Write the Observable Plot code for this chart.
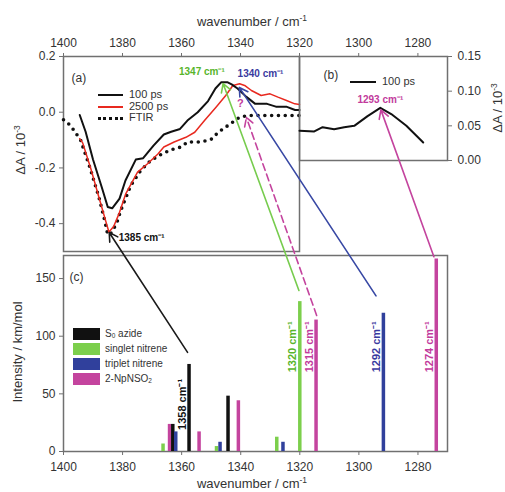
<!DOCTYPE html>
<html><head><meta charset="utf-8">
<script src="https://cdn.jsdelivr.net/npm/d3@7"></script>
<script src="https://cdn.jsdelivr.net/npm/@observablehq/plot@0.6"></script>
<style>
body{margin:0;background:#fff;font-family:"Liberation Sans",Arial,sans-serif;}
#chart{position:relative;width:505px;height:492px;overflow:hidden;background:#fff;}
#chart > svg{position:absolute;left:0;top:0;}
.t{position:absolute;color:#333;white-space:nowrap;line-height:1;}
.rot{transform:translate(-50%,-50%) rotate(-90deg);}
.ln{position:absolute;height:0;}
.sw{position:absolute;width:27px;height:12px;}
sup{font-size:0.65em;vertical-align:0.55em;}
sub{font-size:0.65em;vertical-align:-0.2em;}
</style></head>
<body><div id="chart"></div>
<script>
// ---------- data ----------
// panel (a): 100 ps transient
const a100W = [1394.5,1392.5,1390,1387,1385,1383.5,1381,1379,1375.5,1373,1369.5,1366,1363.5,1360.5,1358,1354.5,1351,1348.5,1346.5,1344.5,1343,1341,1338,1335,1331,1328,1324.5,1321.5,1320];
const a100V = [-0.01,-0.07,-0.17,-0.27,-0.34,-0.345,-0.31,-0.245,-0.17,-0.165,-0.12,-0.08,-0.07,-0.06,-0.03,0.0,0.04,0.085,0.108,0.108,0.10,0.085,0.055,0.03,0.03,0.02,0.02,0.008,0.008];
// panel (a): 2500 ps transient
const a2500W = [1394.5,1393.5,1390.8,1388,1385.7,1384.6,1383,1381.2,1378.9,1374.9,1371.5,1368,1366,1362.5,1358.5,1355.5,1352.2,1348.3,1345,1342.6,1340.3,1338.6,1336.3,1333,1330,1327.3,1324.4,1321.6,1320];
const a2500V = [-0.095,-0.11,-0.2,-0.305,-0.39,-0.43,-0.41,-0.365,-0.293,-0.215,-0.185,-0.15,-0.125,-0.107,-0.09,-0.072,-0.03,0.018,0.06,0.096,0.102,0.096,0.078,0.06,0.066,0.054,0.042,0.03,0.028];
// panel (a): FTIR
const ftirW = [1400,1397.6,1394.2,1391,1388,1386,1385,1384,1382,1380.6,1377.2,1373.8,1370.4,1367,1363.6,1360.2,1357.9,1353.4,1350,1347.5,1343.5,1340.3,1337.5,1333,1328,1324,1320];
const ftirV = [-0.027,-0.048,-0.10,-0.2,-0.305,-0.39,-0.44,-0.435,-0.40,-0.353,-0.263,-0.209,-0.173,-0.152,-0.135,-0.125,-0.107,-0.107,-0.098,-0.072,-0.042,-0.018,-0.012,-0.012,-0.012,-0.012,-0.012];
// panel (b): 100 ps
const b100W = [1320,1315,1312.2,1308.3,1304.9,1301.5,1297,1292.7,1289,1283.9,1278.2];
const b100V = [0.043,0.042,0.048,0.045,0.048,0.05,0.064,0.076,0.067,0.05,0.026];
// panel (c): calculated stick spectra
const seriesNames = ["S\u2080 azide","singlet nitrene","triplet nitrene","2-NpNSO\u2082"];
const seriesColors = ["#111111","#7ccf4c","#30409c","#c4449e"];
const barW = [1366.3,1364.1,1363,1362,1357.5,1354.1,1348.2,1347,1344.3,1340.8,1327.8,1325.7,1320,1314.5,1291.7,1273.8];
const barI = [6.5,23.5,23.5,17,75.5,17,4.3,8,48,44,12.4,8,130,114,120,167];
const barS = [1,3,0,2,0,3,1,2,0,3,1,2,1,3,2,3];
// tick values
const xTicksA = [1400,1380,1360,1340,1320];
const xTicksB = [1300,1280];
const xTicksC = [1400,1380,1360,1340,1320,1300,1280];
const yTicksA = [-0.4,-0.2,0.0,0.2];
const yTicksB = [0,0.05,0.10,0.15];
const yTicksC = [0,50,100,150];
// assignment labels in (c)
const cLabW = [1357.5,1320,1314.5,1291.7,1273.8];
const cLabI = [63,113,113,113,113];
const cLabT = ["1358 cm\u207B\u00B9","1320 cm\u207B\u00B9","1315 cm\u207B\u00B9","1292 cm\u207B\u00B9","1274 cm\u207B\u00B9"];
const cLabS = [0,1,3,2,3];
// arrows from sticks (c) to experimental bands (a)/(b)
const arTailW = [1358,1320.3,1314.3,1294.2,1274.6];
const arTailI = [86,139.6,118,135,169];
const arHeadW = [1384.5,1345.9,1338,1340.4,1292.5];
const arHeadV = [-0.432,0.103,-0.019,0.089,0.073];
const arPanel = ["a","a","a","a","b"];
const arS = [0,1,3,2,3];
const arDashed = [false,false,true,false,false];

// ---------- build ----------
const W = 505, H = 492;
const FONT = "Liberation Sans, Arial, sans-serif";
const base = {width: W, height: H, style: {background: "transparent", fontFamily: FONT, fontSize: "12px", color: "#333", overflow: "visible"}};
const FR = "#707070";
const txtGreen = "#58b52c", txtBlue = "#3a3aa0", txtMag = "#c23a9c";
const fmtInt = d => String(d);

const dA100 = a100W.map((w,i)=>({w, v:a100V[i]}));
const dA2500 = a2500W.map((w,i)=>({w, v:a2500V[i]}));
const dFtir = ftirW.map((w,i)=>({w, v:ftirV[i]}));
const dB = b100W.map((w,i)=>({w, v:b100V[i]}));
const dBars = barW.map((w,i)=>({w, v:barI[i], s:seriesNames[barS[i]]}));
const dCLab = cLabW.map((w,i)=>({w, v:cLabI[i], t:cLabT[i], c: [ "#111", txtGreen, txtBlue, txtMag ][cLabS[i]]}));

const plotA = Plot.plot({...base,
  marginLeft: 63, marginRight: 206, marginTop: 56, marginBottom: 241,
  x: {domain: [1400,1320]}, y: {domain: [-0.5,0.2]},
  marks: [
    Plot.frame({stroke: FR, strokeWidth: 1.5}),
    Plot.axisX({anchor: "top", ticks: xTicksA, tickFormat: fmtInt, tickSize: 4, tickPadding: 6, label: null, fontSize: 12, stroke: FR}),
    Plot.axisY({anchor: "left", ticks: yTicksA, tickFormat: d => d.toFixed(1), tickSize: 4, tickPadding: 4, label: null, fontSize: 12, stroke: FR}),
    Plot.line(dFtir, {x: "w", y: "v", stroke: "#111", strokeWidth: 3.6, strokeDasharray: "0,6.8", strokeLinecap: "round"}),
    Plot.line(dA2500, {x: "w", y: "v", stroke: "#e8291f", strokeWidth: 1.5}),
    Plot.line(dA100, {x: "w", y: "v", stroke: "#111", strokeWidth: 2}),
    Plot.text(["(a)"], {frameAnchor: "top-left", dx: 8, dy: 17, fontSize: 12, fill: "#333"}),
    Plot.text(["1347 cm\u207B\u00B9"], {x: () => 1346, y: () => 0.108, textAnchor: "end", dx: 2, dy: -10, fill: txtGreen, fontWeight: "bold", fontSize: 10}),
    Plot.text(["1340 cm\u207B\u00B9"], {x: () => 1340.3, y: () => 0.102, textAnchor: "start", dx: -2, dy: -10, fill: txtBlue, fontWeight: "bold", fontSize: 10}),
    Plot.text(["1385 cm\u207B\u00B9"], {x: () => 1385, y: () => -0.44, textAnchor: "start", dx: 11, dy: 3, fill: "#111", fontWeight: "bold", fontSize: 10}),
    Plot.text(["?"], {x: () => 1338, y: () => -0.019, dx: -6, dy: -14, fill: txtMag, fontWeight: "bold", fontSize: 11})
  ]
});

const plotB = Plot.plot({...base,
  marginLeft: 299, marginRight: 58, marginTop: 56, marginBottom: 332,
  x: {domain: [1320,1270]}, y: {domain: [0,0.15]},
  marks: [
    Plot.frame({stroke: FR, strokeWidth: 1.5}),
    Plot.axisX({anchor: "top", ticks: xTicksB, tickFormat: fmtInt, tickSize: 4, tickPadding: 6, label: null, fontSize: 12, stroke: FR}),
    Plot.axisY({anchor: "right", ticks: yTicksB, tickFormat: d => d.toFixed(2), tickSize: 4, tickPadding: 6, label: null, fontSize: 12, stroke: FR}),
    Plot.line(dB, {x: "w", y: "v", stroke: "#111", strokeWidth: 2}),
    Plot.text(["(b)"], {frameAnchor: "top-left", dx: 24, dy: 14, fontSize: 12, fill: "#333"}),
    Plot.text(["1293 cm\u207B\u00B9"], {x: () => 1292.7, y: () => 0.076, dy: -8, fill: txtMag, fontWeight: "bold", fontSize: 10})
  ]
});

const plotC = Plot.plot({...base,
  marginLeft: 63, marginRight: 58, marginTop: 255, marginBottom: 41,
  x: {domain: [1400,1270]}, y: {domain: [0,170]},
  color: {domain: seriesNames, range: seriesColors},
  marks: [
    Plot.frame({stroke: FR, strokeWidth: 1.5}),
    Plot.axisX({anchor: "bottom", ticks: xTicksC, tickFormat: fmtInt, tickSize: 4, tickPadding: 7, label: null, fontSize: 12, stroke: FR}),
    Plot.axisY({anchor: "left", ticks: yTicksC, tickSize: 4, tickPadding: 4, label: null, fontSize: 12, stroke: FR}),
    Plot.ruleX(dBars, {x: "w", y1: 0, y2: "v", stroke: "s", strokeWidth: 3.5}),
    Plot.text(["(c)"], {frameAnchor: "top-left", dx: 6, dy: 17, fontSize: 12, fill: "#333"}),
    Plot.text(dCLab, {x: "w", y: "v", text: "t", rotate: -90, textAnchor: "end", dx: -7, fill: "c", fontWeight: "bold", fontSize: 11})
  ]
});

const sA = {x: plotA.scale("x"), y: plotA.scale("y")};
const sB = {x: plotB.scale("x"), y: plotB.scale("y")};
const sC = {x: plotC.scale("x"), y: plotC.scale("y")};
const arrowColors = ["#1a1a1a", "#77cc4e", "#3848a4", "#c4449e"];
const dArrows = arTailW.map((w,i) => {
  const s = arPanel[i] === "a" ? sA : sB;
  return {x1: sC.x.apply(w), y1: sC.y.apply(arTailI[i]),
          x2: s.x.apply(arHeadW[i]), y2: s.y.apply(arHeadV[i]),
          c: arrowColors[arS[i]], dashed: arDashed[i]};
});
const plotArrows = Plot.plot({...base,
  margin: 0, x: {domain: [0,W], range: [0,W], axis: null}, y: {domain: [0,H], range: [0,H], axis: null},
  color: {type: "identity"},
  marks: [
    Plot.arrow(dArrows.filter(d => !d.dashed), {x1: "x1", y1: "y1", x2: "x2", y2: "y2", stroke: "c", strokeWidth: 1.6, headLength: 9}),
    Plot.arrow(dArrows.filter(d => d.dashed), {x1: "x1", y1: "y1", x2: "x2", y2: "y2", stroke: "c", strokeWidth: 1.6, headLength: 9, strokeDasharray: "7,4"})
  ]
});

const chart = document.getElementById("chart");
[plotC, plotA, plotB, plotArrows].forEach(p => chart.appendChild(p));

// axis titles and legends (HTML text)
function addText(html, css, cls) {
  const d = document.createElement("div");
  d.className = "t" + (cls ? " " + cls : "");
  d.innerHTML = html;
  Object.assign(d.style, css);
  chart.appendChild(d);
  return d;
}
addText("wavenumber / cm<sup>-1</sup>", {left: "252px", top: "21px", fontSize: "13px", transform: "translate(-50%,-50%)"});
addText("wavenumber / cm<sup>-1</sup>", {left: "252px", top: "483px", fontSize: "13px", transform: "translate(-50%,-50%)"});
addText("\u0394A / 10<sup>-3</sup>", {left: "20px", top: "150px", fontSize: "13px"}, "rot");
addText("\u0394A / 10<sup>-3</sup>", {left: "497px", top: "108px", fontSize: "13px"}, "rot");
addText("Intensity / km/mol", {left: "17px", top: "352px", fontSize: "13px"}, "rot");

// legend (a)
const legA = [["100 ps","2px solid #111"],["2500 ps","2px solid #e8291f"],["FTIR","3.5px dotted #111"]];
legA.forEach((L,i) => {
  const y = 95 + i*11.5;
  const l = document.createElement("div"); l.className = "ln";
  Object.assign(l.style, {left: "98px", width: "25px", top: (y - 1) + "px", borderTop: L[1]});
  chart.appendChild(l);
  addText(L[0], {left: "129px", top: (y - 6) + "px", fontSize: "11px"});
});
// legend (b)
{
  const l = document.createElement("div"); l.className = "ln";
  Object.assign(l.style, {left: "350px", width: "26px", top: "81px", borderTop: "2px solid #111"});
  chart.appendChild(l);
  addText("100 ps", {left: "382px", top: "76px", fontSize: "11px"});
}
// legend (c)
const legCText = ["S<sub>0</sub> azide","singlet nitrene","triplet nitrene","2-NpNSO<sub>2</sub>"];
seriesNames.forEach((n,i) => {
  const y = 328 + i*15;
  const s = document.createElement("div"); s.className = "sw";
  Object.assign(s.style, {left: "73px", top: y + "px", background: seriesColors[i]});
  chart.appendChild(s);
  addText(legCText[i], {left: "105px", top: (y + 1) + "px", fontSize: "10px"});
});
</script>
</body></html>
